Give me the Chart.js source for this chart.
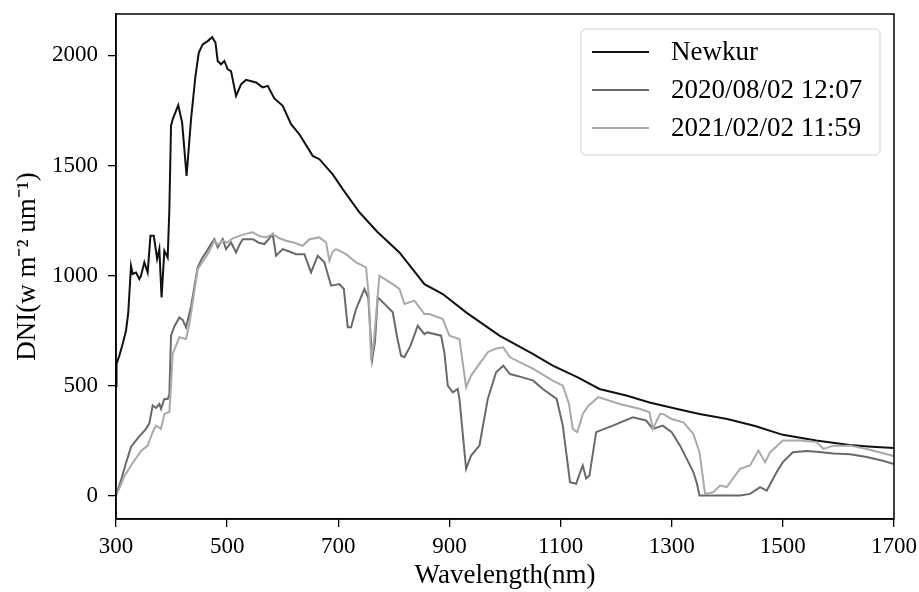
<!DOCTYPE html>
<html>
<head>
<meta charset="utf-8">
<script src="https://cdn.jsdelivr.net/npm/chart.js@4.4.1/dist/chart.umd.min.js"></script>
<style>
  html, body { margin: 0; padding: 0; background: #fff; }
  #wrap { width: 919px; height: 592px; }
</style>
</head>
<body>
<div id="wrap"><canvas id="chart" width="919" height="592"></canvas></div>
<script>
// tick labels
const xTicks = [300, 500, 700, 900, 1100, 1300, 1500, 1700];
const yTicks = [0, 500, 1000, 1500, 2000];

// series labels
const seriesNames = ["Newkur", "2020/08/02 12:07", "2021/02/02 11:59"];

// Newkur (reference spectrum)
const newkurWl = [300, 301, 306, 312, 318, 322, 327, 330, 336, 342, 345, 351, 357, 362, 368, 374, 378, 382, 387, 393, 396, 399, 402, 412, 419, 427, 435, 443, 449, 456, 465, 473, 479, 483, 489, 495, 501, 507, 516, 525, 534, 552, 564, 573, 585, 600, 615, 630, 654, 666, 690, 708, 738, 770, 810, 855, 888, 930, 990, 1050, 1086, 1130, 1170, 1220, 1260, 1310, 1350, 1400, 1450, 1500, 1560, 1620, 1660, 1700];
const newkurDni = [500, 600, 637, 690, 751, 830, 1045, 1008, 1015, 985, 1000, 1061, 1015, 1181, 1181, 1076, 1121, 902, 1113, 1083, 1300, 1680, 1710, 1774, 1695, 1453, 1710, 1907, 2013, 2050, 2065, 2083, 2058, 1975, 1960, 1975, 1937, 1929, 1816, 1869, 1889, 1877, 1855, 1862, 1805, 1771, 1688, 1642, 1544, 1529, 1460, 1393, 1288, 1200, 1106, 962, 917, 834, 728, 645, 592, 540, 486, 455, 425, 395, 373, 350, 318, 278, 252, 232, 224, 218];

// 2020/08/02 12:07
const obs2020Wl = [300, 310, 318, 327, 340, 354, 360, 366, 372, 378, 381, 387, 393, 396, 399, 405, 414, 420, 426, 435, 447, 455, 462, 470, 477, 483, 492, 498, 507, 516, 522, 528, 546, 557, 567, 576, 582, 588, 600, 612, 624, 639, 651, 663, 675, 687, 702, 710, 717, 723, 732, 747, 754, 761, 766, 771, 784, 798, 806, 813, 819, 830, 843, 855, 860, 885, 891, 897, 906, 915, 918, 930, 939, 954, 969, 984, 997, 1009, 1030, 1051, 1068, 1093, 1104, 1117, 1128, 1134, 1140, 1146, 1152, 1164, 1194, 1230, 1254, 1266, 1284, 1300, 1315, 1327, 1339, 1345, 1350, 1381, 1423, 1441, 1459, 1471, 1489, 1500, 1518, 1542, 1566, 1591, 1621, 1651, 1680, 1700];
const obs2020Dni = [3, 80, 150, 223, 265, 305, 330, 411, 400, 418, 396, 441, 441, 460, 728, 770, 811, 800, 766, 860, 1038, 1080, 1106, 1140, 1166, 1129, 1166, 1121, 1151, 1106, 1140, 1166, 1166, 1150, 1144, 1170, 1189, 1091, 1121, 1110, 1098, 1098, 1015, 1091, 1061, 955, 962, 940, 766, 766, 849, 940, 900, 620, 700, 902, 870, 834, 720, 637, 630, 683, 773, 735, 743, 728, 650, 501, 471, 486, 441, 124, 184, 229, 441, 562, 592, 554, 540, 524, 486, 441, 320, 63, 56, 100, 139, 80, 93, 290, 320, 358, 343, 305, 320, 290, 229, 169, 109, 60, 3, 3, 3, 10, 41, 25, 109, 154, 199, 205, 200, 193, 190, 177, 160, 146];

// 2021/02/02 11:59
const obs2021Wl = [300, 305, 315, 330, 345, 357, 366, 372, 378, 381, 387, 396, 399, 402, 414, 426, 432, 447, 465, 477, 483, 492, 500, 510, 531, 546, 558, 570, 582, 594, 606, 621, 636, 648, 666, 678, 684, 690, 696, 714, 732, 750, 755, 759, 764, 774, 798, 810, 819, 837, 855, 864, 888, 900, 918, 930, 939, 954, 969, 984, 997, 1009, 1051, 1086, 1104, 1115, 1122, 1130, 1135, 1140, 1150, 1168, 1206, 1242, 1260, 1266, 1279, 1284, 1300, 1321, 1339, 1350, 1360, 1375, 1387, 1399, 1423, 1441, 1456, 1468, 1477, 1500, 1531, 1561, 1573, 1591, 1621, 1651, 1696, 1700];
const obs2021Dni = [6, 30, 90, 150, 205, 229, 290, 320, 310, 305, 373, 381, 500, 645, 721, 713, 780, 1030, 1098, 1159, 1140, 1159, 1150, 1170, 1189, 1197, 1180, 1174, 1189, 1170, 1159, 1150, 1136, 1166, 1174, 1151, 1068, 1110, 1121, 1098, 1061, 1038, 900, 615, 700, 1000, 962, 940, 872, 887, 826, 826, 804, 728, 713, 494, 547, 600, 653, 670, 675, 630, 577, 524, 501, 420, 305, 290, 330, 373, 410, 449, 418, 396, 380, 305, 373, 373, 350, 335, 282, 199, 10, 18, 48, 41, 124, 139, 207, 154, 199, 252, 252, 245, 214, 229, 229, 214, 184, 180];

const FONT = "'Liberation Serif', 'Times New Roman', serif";
const pts = (xs, ys) => xs.map((x, i) => ({ x: x, y: ys[i] }));

// legend drawn inside the axes, upper right
const insideLegend = {
  id: "insideLegend",
  afterDraw(chart) {
    const ctx = chart.ctx;
    const x0 = 581, y0 = 29, w = 299, h = 126, r = 5;
    ctx.save();
    ctx.beginPath();
    ctx.roundRect(x0, y0, w, h, r);
    ctx.fillStyle = "rgba(255,255,255,0.8)";
    ctx.fill();
    ctx.strokeStyle = "#d0d0d0";
    ctx.lineWidth = 1;
    ctx.stroke();
    ctx.font = "27px " + FONT;
    ctx.textBaseline = "middle";
    chart.data.datasets.forEach((ds, i) => {
      const yy = 52 + i * 38;
      ctx.strokeStyle = ds.borderColor;
      ctx.lineWidth = 2;
      ctx.beginPath();
      ctx.moveTo(592, yy);
      ctx.lineTo(649, yy);
      ctx.stroke();
      ctx.fillStyle = "#000";
      ctx.fillText(ds.label, 671, yy + 1);
    });
    ctx.restore();
  }
};

// full box round the plot area
const frame = {
  id: "frame",
  afterDatasetsDraw(chart) {
    const a = chart.chartArea, ctx = chart.ctx;
    ctx.save();
    ctx.strokeStyle = "#000";
    ctx.lineWidth = 1.5;
    ctx.strokeRect(a.left, a.top, a.right - a.left, a.bottom - a.top);
    ctx.restore();
  }
};

const noPad = (s) => { s.paddingTop = 0; s.paddingBottom = 0; s.paddingLeft = 0; s.paddingRight = 0; };

const ctx = document.getElementById("chart").getContext("2d");
new Chart(ctx, {
  type: "line",
  data: {
    datasets: [
      { label: seriesNames[0], data: pts(newkurWl, newkurDni), borderColor: "#111111", order: 2 },
      { label: seriesNames[1], data: pts(obs2020Wl, obs2020Dni), borderColor: "#696969", order: 1 },
      { label: seriesNames[2], data: pts(obs2021Wl, obs2021Dni), borderColor: "#a9a9a9", order: 0 }
    ]
  },
  options: {
    responsive: false,
    animation: false,
    devicePixelRatio: 1,
    layout: { padding: { left: 0, right: 25, top: 14, bottom: 0 } },
    elements: {
      point: { radius: 0 },
      line: { borderWidth: 2, tension: 0, fill: false }
    },
    plugins: {
      legend: { display: false },
      tooltip: { enabled: false }
    },
    scales: {
      x: {
        type: "linear",
        min: 300,
        max: 1700,
        afterBuildTicks: (s) => { s.ticks = xTicks.map((v) => ({ value: v })); },
        afterFit: (s) => { s.height = 73; noPad(s); },
        ticks: { color: "#000", font: { family: FONT, size: 23 }, padding: 6, maxRotation: 0, callback: (v) => String(v) },
        grid: { drawOnChartArea: false, tickLength: 8, color: "#000", lineWidth: 1.3 },
        border: { color: "#000", width: 1.5 },
        title: { display: true, text: "Wavelength(nm)", color: "#000", font: { family: FONT, size: 27 }, padding: { top: 0, bottom: 0 } }
      },
      y: {
        type: "linear",
        min: -104,
        max: 2188,
        afterBuildTicks: (s) => { s.ticks = yTicks.map((v) => ({ value: v })); },
        afterFit: (s) => { s.width = 116; noPad(s); },
        ticks: { color: "#000", font: { family: FONT, size: 23 }, padding: 10, callback: (v) => String(v) },
        grid: { drawOnChartArea: false, tickLength: 8, color: "#000", lineWidth: 1.3 },
        border: { color: "#000", width: 1.5 },
        title: { display: true, text: "DNI(w m\u207B\u00B2 um\u207B\u00B9)", color: "#000", font: { family: FONT, size: 27 }, padding: { top: 12, bottom: 0 } }
      }
    }
  },
  plugins: [insideLegend, frame]
});
</script>
</body>
</html>
